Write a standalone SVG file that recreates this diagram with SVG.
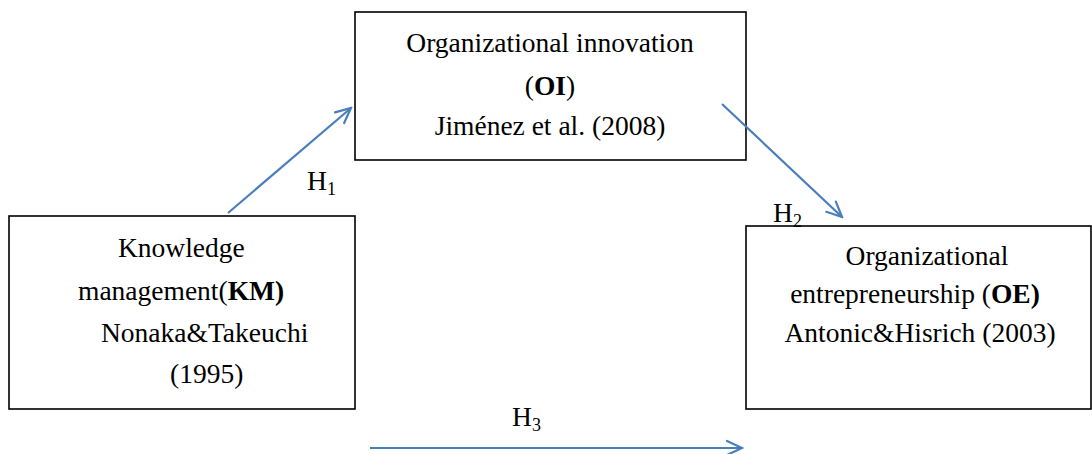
<svg xmlns="http://www.w3.org/2000/svg" width="1092" height="454" viewBox="0 0 1092 454">
<style>
.box{fill:#fff;stroke:#000;stroke-width:1.6}
.t{font-family:'Liberation Serif','Times New Roman',serif;font-size:27.5px;fill:#000}
.b{font-weight:bold}
.sub{font-size:18px}
.conn{stroke:#4a7ebb;stroke-width:2.2;fill:none}
</style>
<defs>
<marker id="arr" markerUnits="userSpaceOnUse" markerWidth="20" markerHeight="20" viewBox="0 0 20 20" refX="18" refY="10" orient="auto">
<path d="M3,3 L18,10 L3,17" fill="none" stroke="#4a7ebb" stroke-width="2.2" stroke-linecap="round"/>
</marker>
</defs>
<g id="KM" class="t" font-family="Liberation Serif, serif">
<rect class="box" x="9" y="216" width="346" height="193"/>
<text x="118" y="257">Knowledge</text>
<text x="78" y="300">management(<tspan class="b">KM)</tspan></text>
<text x="101" y="342">Nonaka&amp;Takeuchi</text>
<text x="170" y="383">(1995)</text>
</g>
<g id="OI" class="t" font-family="Liberation Serif, serif">
<rect class="box" x="355" y="12" width="391" height="148"/>
<text x="550" y="52" text-anchor="middle">Organizational innovation</text>
<text x="550" y="95" text-anchor="middle">(<tspan class="b">OI</tspan>)</text>
<text x="550" y="135" text-anchor="middle">Jiménez et al. (2008)</text>
</g>
<g id="OE" class="t" font-family="Liberation Serif, serif">
<rect class="box" x="746" y="226" width="345" height="183"/>
<text x="927" y="265" text-anchor="middle">Organizational</text>
<text x="915" y="303" text-anchor="middle">entrepreneurship (<tspan class="b">OE)</tspan></text>
<text x="920" y="342" text-anchor="middle">Antonic&amp;Hisrich (2003)</text>
</g>
<g id="connectors">
<line class="conn" x1="228" y1="213" x2="351" y2="108" marker-end="url(#arr)"/>
<line class="conn" x1="722" y1="104" x2="842" y2="217" marker-end="url(#arr)"/>
<line class="conn" x1="370" y1="448" x2="742" y2="448" marker-end="url(#arr)"/>
</g>
<g id="labels" class="t" font-family="Liberation Serif, serif">
<text x="307" y="190">H<tspan class="sub" dy="5">1</tspan></text>
<text x="773" y="222">H<tspan class="sub" dy="5">2</tspan></text>
<text x="512" y="426">H<tspan class="sub" dy="5">3</tspan></text>
</g>
</svg>
